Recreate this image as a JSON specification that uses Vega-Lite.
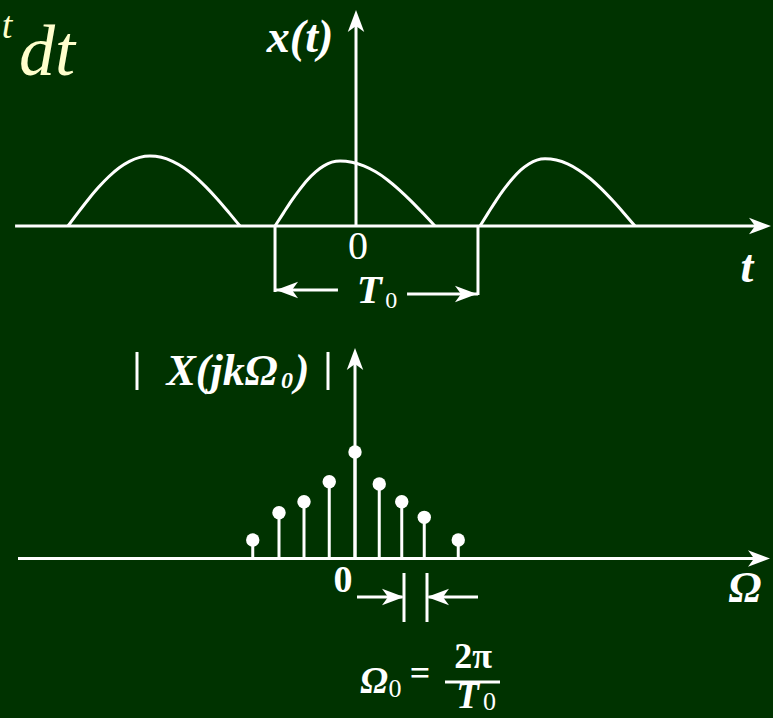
{
  "$schema": "https://vega.github.io/schema/vega-lite/v6.json",
  "width": 773,
  "height": 718,
  "padding": 0,
  "autosize": {"type": "none"},
  "background": "#003300",
  "config": {"view": {"stroke": null}, "text": {"font": "Liberation Serif"}},
  "datasets": {
    "pulses": [
      {"hump": "a", "t": -1.405, "v": 0}, {"hump": "a", "t": -1.355, "v": 0.195}, {"hump": "a", "t": -1.305, "v": 0.383},
      {"hump": "a", "t": -1.255, "v": 0.556}, {"hump": "a", "t": -1.205, "v": 0.707}, {"hump": "a", "t": -1.155, "v": 0.832},
      {"hump": "a", "t": -1.105, "v": 0.924}, {"hump": "a", "t": -1.055, "v": 0.981}, {"hump": "a", "t": -1.005, "v": 1.0},
      {"hump": "a", "t": -0.95, "v": 0.981}, {"hump": "a", "t": -0.895, "v": 0.924}, {"hump": "a", "t": -0.84, "v": 0.832},
      {"hump": "a", "t": -0.785, "v": 0.707}, {"hump": "a", "t": -0.731, "v": 0.556}, {"hump": "a", "t": -0.676, "v": 0.383},
      {"hump": "a", "t": -0.621, "v": 0.195}, {"hump": "a", "t": -0.566, "v": 0},
      {"hump": "b", "t": -0.395, "v": 0}, {"hump": "b", "t": -0.355, "v": 0.181}, {"hump": "b", "t": -0.316, "v": 0.356},
      {"hump": "b", "t": -0.276, "v": 0.517}, {"hump": "b", "t": -0.237, "v": 0.658}, {"hump": "b", "t": -0.197, "v": 0.774},
      {"hump": "b", "t": -0.157, "v": 0.859}, {"hump": "b", "t": -0.118, "v": 0.912}, {"hump": "b", "t": -0.078, "v": 0.93},
      {"hump": "b", "t": -0.02, "v": 0.912}, {"hump": "b", "t": 0.038, "v": 0.859}, {"hump": "b", "t": 0.096, "v": 0.774},
      {"hump": "b", "t": 0.154, "v": 0.658}, {"hump": "b", "t": 0.211, "v": 0.517}, {"hump": "b", "t": 0.269, "v": 0.356},
      {"hump": "b", "t": 0.327, "v": 0.181}, {"hump": "b", "t": 0.385, "v": 0},
      {"hump": "c", "t": 0.605, "v": 0}, {"hump": "c", "t": 0.645, "v": 0.187}, {"hump": "c", "t": 0.684, "v": 0.367},
      {"hump": "c", "t": 0.724, "v": 0.534}, {"hump": "c", "t": 0.764, "v": 0.679}, {"hump": "c", "t": 0.803, "v": 0.798},
      {"hump": "c", "t": 0.843, "v": 0.887}, {"hump": "c", "t": 0.882, "v": 0.942}, {"hump": "c", "t": 0.922, "v": 0.96},
      {"hump": "c", "t": 0.977, "v": 0.942}, {"hump": "c", "t": 1.032, "v": 0.887}, {"hump": "c", "t": 1.087, "v": 0.798},
      {"hump": "c", "t": 1.142, "v": 0.679}, {"hump": "c", "t": 1.196, "v": 0.534}, {"hump": "c", "t": 1.251, "v": 0.367},
      {"hump": "c", "t": 1.306, "v": 0.187}, {"hump": "c", "t": 1.361, "v": 0}
    ],
    "timeLines": [
      {"part": "t axis", "t": -1.663, "v": 0, "t2": 1.971, "v2": 0},
      {"part": "x axis", "t": 0, "v": 0, "t2": 0, "v2": 2.886},
      {"part": "period start", "t": -0.395, "v": 0, "t2": -0.395, "v2": -0.943},
      {"part": "period end", "t": 0.595, "v": 0, "t2": 0.595, "v2": -0.986},
      {"part": "period left arrow", "t": -0.395, "v": -0.914, "t2": -0.088, "v2": -0.914},
      {"part": "period right arrow", "t": 0.249, "v": -0.971, "t2": 0.595, "v2": -0.971}
    ],
    "timeArrows": [
      {"part": "x axis", "t": 0, "v": 3.086, "dir": 0},
      {"part": "t axis", "t": 2.0244, "v": 0, "dir": 90},
      {"part": "period left", "t": -0.39, "v": -0.914, "dir": 270},
      {"part": "period right", "t": 0.59, "v": -0.971, "dir": 90}
    ],
    "timeLabels": [
      {"kind": "var", "label": "x(t)", "t": -0.273, "v": 2.486},
      {"kind": "var", "label": "t", "t": 1.907, "v": -0.8},
      {"kind": "period", "label": "T", "t": 0.065, "v": -1.1},
      {"kind": "digit", "label": "0", "t": 0.01, "v": -0.47},
      {"kind": "sub", "label": "0", "t": 0.172, "v": -1.171},
      {"kind": "noteBig", "label": "dt", "t": -1.507, "v": 2.157},
      {"kind": "noteSmall", "label": "t", "t": -1.702, "v": 2.686}
    ],
    "spectrum": [
      {"k": -4.09, "X": 0.176}, {"k": -3.04, "X": 0.436}, {"k": -2.04, "X": 0.541},
      {"k": -1.03, "X": 0.731}, {"k": 0, "X": 1.014}, {"k": 0.97, "X": 0.71},
      {"k": 1.87, "X": 0.541}, {"k": 2.77, "X": 0.392}, {"k": 4.13, "X": 0.176}
    ],
    "freqLines": [
      {"part": "omega axis", "k": -13.48, "X": 0, "k2": 16.2, "X2": 0},
      {"part": "magnitude axis", "k": 0, "X": 0, "k2": 0, "X2": 1.91},
      {"part": "abs left", "k": -8.72, "X": 1.967, "k2": -8.72, "X2": 1.605},
      {"part": "abs right", "k": -1.08, "X": 1.967, "k2": -1.08, "X2": 1.605},
      {"part": "spacing tick 1", "k": 1.96, "X": -0.138, "k2": 1.96, "X2": -0.605},
      {"part": "spacing tick 2", "k": 2.88, "X": -0.138, "k2": 2.88, "X2": -0.605},
      {"part": "spacing arrow in", "k": 0.08, "X": -0.367, "k2": 1.9, "X2": -0.367},
      {"part": "spacing arrow out", "k": 2.94, "X": -0.367, "k2": 4.92, "X2": -0.367},
      {"part": "fraction bar", "k": 3.6, "X": -1.176, "k2": 5.8, "X2": -1.176}
    ],
    "freqArrows": [
      {"part": "magnitude axis", "k": 0, "X": 2.005, "dir": 0},
      {"part": "omega axis", "k": 16.6, "X": 0, "dir": 90},
      {"part": "spacing right", "k": 1.96, "X": -0.367, "dir": 90},
      {"part": "spacing left", "k": 2.88, "X": -0.367, "dir": 270}
    ],
    "freqLabels": [
      {"kind": "var", "label": "X(jkΩ", "k": -5.32, "X": 1.652},
      {"kind": "subItalic", "label": "0", "k": -2.72, "X": 1.624},
      {"kind": "var", "label": ")", "k": -2.12, "X": 1.652},
      {"kind": "digitBold", "label": "0", "k": -0.48, "X": -0.319},
      {"kind": "varBig", "label": "Ω", "k": 15.6, "X": -0.414},
      {"kind": "varSmall", "label": "Ω", "k": 0.76, "X": -1.281},
      {"kind": "sub", "label": "0", "k": 1.6, "X": -1.319},
      {"kind": "op", "label": "=", "k": 2.6, "X": -1.2},
      {"kind": "op", "label": "2π", "k": 4.72, "X": -1.043},
      {"kind": "varSmall", "label": "T", "k": 4.5, "X": -1.42},
      {"kind": "sub", "label": "0", "k": 5.38, "X": -1.44}
    ]
  },
  "layer": [
    {
      "encoding": {
        "x": {"field": "t", "type": "quantitative", "scale": {"domain": [-1.73659, 2.03415], "nice": false, "zero": false}, "axis": null},
        "y": {"field": "v", "type": "quantitative", "scale": {"domain": [-7.0286, 3.2286], "nice": false, "zero": false}, "axis": null}
      },
      "layer": [
        {
          "data": {"name": "pulses"},
          "mark": {"type": "line", "color": "white", "strokeWidth": 3, "interpolate": "monotone"},
          "encoding": {"detail": {"field": "hump", "type": "nominal"}}
        },
        {
          "data": {"name": "timeLines"},
          "mark": {"type": "rule", "color": "white", "strokeWidth": 3},
          "encoding": {"x2": {"field": "t2"}, "y2": {"field": "v2"}}
        },
        {
          "data": {"name": "timeArrows"},
          "mark": {"type": "point", "shape": "M0,0L-0.75,2L0,1.45L0.75,2Z", "filled": true, "opacity": 1, "color": "white", "strokeWidth": 0, "size": 484},
          "encoding": {"angle": {"field": "dir", "type": "quantitative", "scale": null}}
        },
        {
          "data": {"name": "timeLabels"},
          "transform": [{"filter": "datum.kind === 'var'"}],
          "mark": {"type": "text", "fontStyle": "italic", "fontWeight": "bold", "fontSize": 46, "color": "white", "align": "center", "baseline": "alphabetic"},
          "encoding": {"text": {"field": "label"}}
        },
        {
          "data": {"name": "timeLabels"},
          "transform": [{"filter": "datum.kind === 'period'"}],
          "mark": {"type": "text", "fontStyle": "italic", "fontWeight": "bold", "fontSize": 41, "color": "white", "align": "center", "baseline": "alphabetic"},
          "encoding": {"text": {"field": "label"}}
        },
        {
          "data": {"name": "timeLabels"},
          "transform": [{"filter": "datum.kind === 'digit'"}],
          "mark": {"type": "text", "fontSize": 40, "color": "white", "align": "center", "baseline": "alphabetic"},
          "encoding": {"text": {"field": "label"}}
        },
        {
          "data": {"name": "timeLabels"},
          "transform": [{"filter": "datum.kind === 'sub'"}],
          "mark": {"type": "text", "fontSize": 24, "color": "white", "align": "center", "baseline": "alphabetic"},
          "encoding": {"text": {"field": "label"}}
        },
        {
          "data": {"name": "timeLabels"},
          "transform": [{"filter": "datum.kind === 'noteBig'"}],
          "mark": {"type": "text", "fontStyle": "italic", "fontSize": 72, "color": "#ffffcc", "align": "center", "baseline": "alphabetic"},
          "encoding": {"text": {"field": "label"}}
        },
        {
          "data": {"name": "timeLabels"},
          "transform": [{"filter": "datum.kind === 'noteSmall'"}],
          "mark": {"type": "text", "fontStyle": "italic", "fontSize": 38, "color": "#ffffcc", "align": "center", "baseline": "alphabetic"},
          "encoding": {"text": {"field": "label"}}
        }
      ]
    },
    {
      "encoding": {
        "x": {"field": "k", "type": "quantitative", "scale": {"domain": [-14.2, 16.72], "nice": false, "zero": false}, "axis": null},
        "y": {"field": "X", "type": "quantitative", "scale": {"domain": [-1.519, 5.319], "nice": false, "zero": false}, "axis": null}
      },
      "layer": [
        {
          "data": {"name": "freqLines"},
          "mark": {"type": "rule", "color": "white", "strokeWidth": 3},
          "encoding": {"x2": {"field": "k2"}, "y2": {"field": "X2"}}
        },
        {
          "data": {"name": "spectrum"},
          "mark": {"type": "rule", "color": "white", "strokeWidth": 3},
          "encoding": {"y2": {"datum": 0}}
        },
        {
          "data": {"name": "spectrum"},
          "mark": {"type": "point", "shape": "circle", "filled": true, "opacity": 1, "color": "white", "strokeWidth": 0, "size": 180}
        },
        {
          "data": {"name": "freqArrows"},
          "mark": {"type": "point", "shape": "M0,0L-0.75,2L0,1.45L0.75,2Z", "filled": true, "opacity": 1, "color": "white", "strokeWidth": 0, "size": 484},
          "encoding": {"angle": {"field": "dir", "type": "quantitative", "scale": null}}
        },
        {
          "data": {"name": "freqLabels"},
          "transform": [{"filter": "datum.kind === 'var'"}],
          "mark": {"type": "text", "fontStyle": "italic", "fontWeight": "bold", "fontSize": 44, "color": "white", "align": "center", "baseline": "alphabetic"},
          "encoding": {"text": {"field": "label"}}
        },
        {
          "data": {"name": "freqLabels"},
          "transform": [{"filter": "datum.kind === 'varBig'"}],
          "mark": {"type": "text", "fontStyle": "italic", "fontWeight": "bold", "fontSize": 44, "color": "white", "align": "center", "baseline": "alphabetic"},
          "encoding": {"text": {"field": "label"}}
        },
        {
          "data": {"name": "freqLabels"},
          "transform": [{"filter": "datum.kind === 'varSmall'"}],
          "mark": {"type": "text", "fontStyle": "italic", "fontWeight": "bold", "fontSize": 37, "color": "white", "align": "center", "baseline": "alphabetic"},
          "encoding": {"text": {"field": "label"}}
        },
        {
          "data": {"name": "freqLabels"},
          "transform": [{"filter": "datum.kind === 'subItalic'"}],
          "mark": {"type": "text", "fontStyle": "italic", "fontWeight": "bold", "fontSize": 24, "color": "white", "align": "center", "baseline": "alphabetic"},
          "encoding": {"text": {"field": "label"}}
        },
        {
          "data": {"name": "freqLabels"},
          "transform": [{"filter": "datum.kind === 'sub'"}],
          "mark": {"type": "text", "fontSize": 26, "color": "white", "align": "center", "baseline": "alphabetic"},
          "encoding": {"text": {"field": "label"}}
        },
        {
          "data": {"name": "freqLabels"},
          "transform": [{"filter": "datum.kind === 'digitBold'"}],
          "mark": {"type": "text", "fontWeight": "bold", "fontSize": 38, "color": "white", "align": "center", "baseline": "alphabetic"},
          "encoding": {"text": {"field": "label"}}
        },
        {
          "data": {"name": "freqLabels"},
          "transform": [{"filter": "datum.kind === 'op'"}],
          "mark": {"type": "text", "fontWeight": "bold", "fontSize": 36, "color": "white", "align": "center", "baseline": "alphabetic"},
          "encoding": {"text": {"field": "label"}}
        }
      ]
    }
  ],
  "resolve": {"scale": {"x": "independent", "y": "independent"}}
}
